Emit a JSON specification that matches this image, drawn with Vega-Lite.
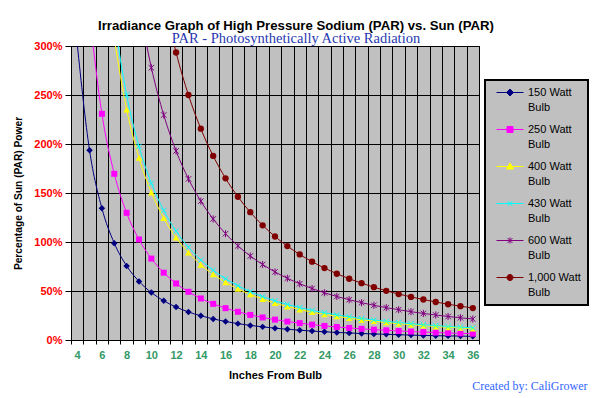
{
  "$schema": "https://vega.github.io/schema/vega-lite/v6.json",
  "width": 408,
  "height": 294,
  "autosize": {"type": "none"},
  "padding": {"left": 71, "top": 46, "right": 114, "bottom": 58},
  "background": "white",
  "title": {
    "text": "Irradiance Graph of High Pressure Sodium (PAR) vs. Sun (PAR)",
    "subtitle": "PAR - Photosynthetically Active Radiation",
    "anchor": "middle",
    "frame": "group",
    "dx": 21,
    "offset": -6,
    "font": "Liberation Sans",
    "fontSize": 13.2,
    "fontWeight": "bold",
    "color": "black",
    "subtitleFont": "Liberation Serif",
    "subtitleFontSize": 14.5,
    "subtitleColor": "#2638b0",
    "subtitlePadding": -2
  },
  "config": {
    "view": {"fill": "#c0c0c0", "stroke": "black", "strokeWidth": 1},
    "axis": {"labelFont": "Liberation Sans", "titleFont": "Liberation Sans"}
  },
  "data": {"values": [
    {"bulb": "150 Watt Bulb", "inches": 4, "pct": 302.5},
    {"bulb": "150 Watt Bulb", "inches": 5, "pct": 193.6},
    {"bulb": "150 Watt Bulb", "inches": 6, "pct": 134.4},
    {"bulb": "150 Watt Bulb", "inches": 7, "pct": 98.8},
    {"bulb": "150 Watt Bulb", "inches": 8, "pct": 75.6},
    {"bulb": "150 Watt Bulb", "inches": 9, "pct": 59.8},
    {"bulb": "150 Watt Bulb", "inches": 10, "pct": 48.4},
    {"bulb": "150 Watt Bulb", "inches": 11, "pct": 40.0},
    {"bulb": "150 Watt Bulb", "inches": 12, "pct": 33.6},
    {"bulb": "150 Watt Bulb", "inches": 13, "pct": 28.6},
    {"bulb": "150 Watt Bulb", "inches": 14, "pct": 24.7},
    {"bulb": "150 Watt Bulb", "inches": 15, "pct": 21.5},
    {"bulb": "150 Watt Bulb", "inches": 16, "pct": 18.9},
    {"bulb": "150 Watt Bulb", "inches": 17, "pct": 16.7},
    {"bulb": "150 Watt Bulb", "inches": 18, "pct": 14.9},
    {"bulb": "150 Watt Bulb", "inches": 19, "pct": 13.4},
    {"bulb": "150 Watt Bulb", "inches": 20, "pct": 12.1},
    {"bulb": "150 Watt Bulb", "inches": 21, "pct": 11.0},
    {"bulb": "150 Watt Bulb", "inches": 22, "pct": 10.0},
    {"bulb": "150 Watt Bulb", "inches": 23, "pct": 9.1},
    {"bulb": "150 Watt Bulb", "inches": 24, "pct": 8.4},
    {"bulb": "150 Watt Bulb", "inches": 25, "pct": 7.7},
    {"bulb": "150 Watt Bulb", "inches": 26, "pct": 7.2},
    {"bulb": "150 Watt Bulb", "inches": 27, "pct": 6.6},
    {"bulb": "150 Watt Bulb", "inches": 28, "pct": 6.2},
    {"bulb": "150 Watt Bulb", "inches": 29, "pct": 5.8},
    {"bulb": "150 Watt Bulb", "inches": 30, "pct": 5.4},
    {"bulb": "150 Watt Bulb", "inches": 31, "pct": 5.0},
    {"bulb": "150 Watt Bulb", "inches": 32, "pct": 4.7},
    {"bulb": "150 Watt Bulb", "inches": 33, "pct": 4.4},
    {"bulb": "150 Watt Bulb", "inches": 34, "pct": 4.2},
    {"bulb": "150 Watt Bulb", "inches": 35, "pct": 4.0},
    {"bulb": "150 Watt Bulb", "inches": 36, "pct": 3.7},
    {"bulb": "250 Watt Bulb", "inches": 5, "pct": 332.4},
    {"bulb": "250 Watt Bulb", "inches": 6, "pct": 230.8},
    {"bulb": "250 Watt Bulb", "inches": 7, "pct": 169.6},
    {"bulb": "250 Watt Bulb", "inches": 8, "pct": 129.8},
    {"bulb": "250 Watt Bulb", "inches": 9, "pct": 102.6},
    {"bulb": "250 Watt Bulb", "inches": 10, "pct": 83.1},
    {"bulb": "250 Watt Bulb", "inches": 11, "pct": 68.7},
    {"bulb": "250 Watt Bulb", "inches": 12, "pct": 57.7},
    {"bulb": "250 Watt Bulb", "inches": 13, "pct": 49.2},
    {"bulb": "250 Watt Bulb", "inches": 14, "pct": 42.4},
    {"bulb": "250 Watt Bulb", "inches": 15, "pct": 36.9},
    {"bulb": "250 Watt Bulb", "inches": 16, "pct": 32.5},
    {"bulb": "250 Watt Bulb", "inches": 17, "pct": 28.8},
    {"bulb": "250 Watt Bulb", "inches": 18, "pct": 25.6},
    {"bulb": "250 Watt Bulb", "inches": 19, "pct": 23.0},
    {"bulb": "250 Watt Bulb", "inches": 20, "pct": 20.8},
    {"bulb": "250 Watt Bulb", "inches": 21, "pct": 18.8},
    {"bulb": "250 Watt Bulb", "inches": 22, "pct": 17.2},
    {"bulb": "250 Watt Bulb", "inches": 23, "pct": 15.7},
    {"bulb": "250 Watt Bulb", "inches": 24, "pct": 14.4},
    {"bulb": "250 Watt Bulb", "inches": 25, "pct": 13.3},
    {"bulb": "250 Watt Bulb", "inches": 26, "pct": 12.3},
    {"bulb": "250 Watt Bulb", "inches": 27, "pct": 11.4},
    {"bulb": "250 Watt Bulb", "inches": 28, "pct": 10.6},
    {"bulb": "250 Watt Bulb", "inches": 29, "pct": 9.9},
    {"bulb": "250 Watt Bulb", "inches": 30, "pct": 9.2},
    {"bulb": "250 Watt Bulb", "inches": 31, "pct": 8.6},
    {"bulb": "250 Watt Bulb", "inches": 32, "pct": 8.1},
    {"bulb": "250 Watt Bulb", "inches": 33, "pct": 7.6},
    {"bulb": "250 Watt Bulb", "inches": 34, "pct": 7.2},
    {"bulb": "250 Watt Bulb", "inches": 35, "pct": 6.8},
    {"bulb": "250 Watt Bulb", "inches": 36, "pct": 6.4},
    {"bulb": "400 Watt Bulb", "inches": 7, "pct": 307.1},
    {"bulb": "400 Watt Bulb", "inches": 8, "pct": 235.2},
    {"bulb": "400 Watt Bulb", "inches": 9, "pct": 185.8},
    {"bulb": "400 Watt Bulb", "inches": 10, "pct": 150.5},
    {"bulb": "400 Watt Bulb", "inches": 11, "pct": 124.4},
    {"bulb": "400 Watt Bulb", "inches": 12, "pct": 104.5},
    {"bulb": "400 Watt Bulb", "inches": 13, "pct": 89.1},
    {"bulb": "400 Watt Bulb", "inches": 14, "pct": 76.8},
    {"bulb": "400 Watt Bulb", "inches": 15, "pct": 66.9},
    {"bulb": "400 Watt Bulb", "inches": 16, "pct": 58.8},
    {"bulb": "400 Watt Bulb", "inches": 17, "pct": 52.1},
    {"bulb": "400 Watt Bulb", "inches": 18, "pct": 46.5},
    {"bulb": "400 Watt Bulb", "inches": 19, "pct": 41.7},
    {"bulb": "400 Watt Bulb", "inches": 20, "pct": 37.6},
    {"bulb": "400 Watt Bulb", "inches": 21, "pct": 34.1},
    {"bulb": "400 Watt Bulb", "inches": 22, "pct": 31.1},
    {"bulb": "400 Watt Bulb", "inches": 23, "pct": 28.4},
    {"bulb": "400 Watt Bulb", "inches": 24, "pct": 26.1},
    {"bulb": "400 Watt Bulb", "inches": 25, "pct": 24.1},
    {"bulb": "400 Watt Bulb", "inches": 26, "pct": 22.3},
    {"bulb": "400 Watt Bulb", "inches": 27, "pct": 20.6},
    {"bulb": "400 Watt Bulb", "inches": 28, "pct": 19.2},
    {"bulb": "400 Watt Bulb", "inches": 29, "pct": 17.9},
    {"bulb": "400 Watt Bulb", "inches": 30, "pct": 16.7},
    {"bulb": "400 Watt Bulb", "inches": 31, "pct": 15.7},
    {"bulb": "400 Watt Bulb", "inches": 32, "pct": 14.7},
    {"bulb": "400 Watt Bulb", "inches": 33, "pct": 13.8},
    {"bulb": "400 Watt Bulb", "inches": 34, "pct": 13.0},
    {"bulb": "400 Watt Bulb", "inches": 35, "pct": 12.3},
    {"bulb": "400 Watt Bulb", "inches": 36, "pct": 11.6},
    {"bulb": "430 Watt Bulb", "inches": 7, "pct": 326.5},
    {"bulb": "430 Watt Bulb", "inches": 8, "pct": 250.0},
    {"bulb": "430 Watt Bulb", "inches": 9, "pct": 197.5},
    {"bulb": "430 Watt Bulb", "inches": 10, "pct": 160.0},
    {"bulb": "430 Watt Bulb", "inches": 11, "pct": 132.2},
    {"bulb": "430 Watt Bulb", "inches": 12, "pct": 111.1},
    {"bulb": "430 Watt Bulb", "inches": 13, "pct": 94.7},
    {"bulb": "430 Watt Bulb", "inches": 14, "pct": 81.6},
    {"bulb": "430 Watt Bulb", "inches": 15, "pct": 71.1},
    {"bulb": "430 Watt Bulb", "inches": 16, "pct": 62.5},
    {"bulb": "430 Watt Bulb", "inches": 17, "pct": 55.4},
    {"bulb": "430 Watt Bulb", "inches": 18, "pct": 49.4},
    {"bulb": "430 Watt Bulb", "inches": 19, "pct": 44.3},
    {"bulb": "430 Watt Bulb", "inches": 20, "pct": 40.0},
    {"bulb": "430 Watt Bulb", "inches": 21, "pct": 36.3},
    {"bulb": "430 Watt Bulb", "inches": 22, "pct": 33.1},
    {"bulb": "430 Watt Bulb", "inches": 23, "pct": 30.2},
    {"bulb": "430 Watt Bulb", "inches": 24, "pct": 27.8},
    {"bulb": "430 Watt Bulb", "inches": 25, "pct": 25.6},
    {"bulb": "430 Watt Bulb", "inches": 26, "pct": 23.7},
    {"bulb": "430 Watt Bulb", "inches": 27, "pct": 21.9},
    {"bulb": "430 Watt Bulb", "inches": 28, "pct": 20.4},
    {"bulb": "430 Watt Bulb", "inches": 29, "pct": 19.0},
    {"bulb": "430 Watt Bulb", "inches": 30, "pct": 17.8},
    {"bulb": "430 Watt Bulb", "inches": 31, "pct": 16.6},
    {"bulb": "430 Watt Bulb", "inches": 32, "pct": 15.6},
    {"bulb": "430 Watt Bulb", "inches": 33, "pct": 14.7},
    {"bulb": "430 Watt Bulb", "inches": 34, "pct": 13.8},
    {"bulb": "430 Watt Bulb", "inches": 35, "pct": 13.1},
    {"bulb": "430 Watt Bulb", "inches": 36, "pct": 12.3},
    {"bulb": "600 Watt Bulb", "inches": 9, "pct": 343.0},
    {"bulb": "600 Watt Bulb", "inches": 10, "pct": 277.8},
    {"bulb": "600 Watt Bulb", "inches": 11, "pct": 229.6},
    {"bulb": "600 Watt Bulb", "inches": 12, "pct": 192.9},
    {"bulb": "600 Watt Bulb", "inches": 13, "pct": 164.4},
    {"bulb": "600 Watt Bulb", "inches": 14, "pct": 141.7},
    {"bulb": "600 Watt Bulb", "inches": 15, "pct": 123.5},
    {"bulb": "600 Watt Bulb", "inches": 16, "pct": 108.5},
    {"bulb": "600 Watt Bulb", "inches": 17, "pct": 96.1},
    {"bulb": "600 Watt Bulb", "inches": 18, "pct": 85.7},
    {"bulb": "600 Watt Bulb", "inches": 19, "pct": 77.0},
    {"bulb": "600 Watt Bulb", "inches": 20, "pct": 69.5},
    {"bulb": "600 Watt Bulb", "inches": 21, "pct": 63.0},
    {"bulb": "600 Watt Bulb", "inches": 22, "pct": 57.4},
    {"bulb": "600 Watt Bulb", "inches": 23, "pct": 52.5},
    {"bulb": "600 Watt Bulb", "inches": 24, "pct": 48.2},
    {"bulb": "600 Watt Bulb", "inches": 25, "pct": 44.4},
    {"bulb": "600 Watt Bulb", "inches": 26, "pct": 41.1},
    {"bulb": "600 Watt Bulb", "inches": 27, "pct": 38.1},
    {"bulb": "600 Watt Bulb", "inches": 28, "pct": 35.4},
    {"bulb": "600 Watt Bulb", "inches": 29, "pct": 33.0},
    {"bulb": "600 Watt Bulb", "inches": 30, "pct": 30.9},
    {"bulb": "600 Watt Bulb", "inches": 31, "pct": 28.9},
    {"bulb": "600 Watt Bulb", "inches": 32, "pct": 27.1},
    {"bulb": "600 Watt Bulb", "inches": 33, "pct": 25.5},
    {"bulb": "600 Watt Bulb", "inches": 34, "pct": 24.0},
    {"bulb": "600 Watt Bulb", "inches": 35, "pct": 22.7},
    {"bulb": "600 Watt Bulb", "inches": 36, "pct": 21.4},
    {"bulb": "1,000 Watt Bulb", "inches": 11, "pct": 349.2},
    {"bulb": "1,000 Watt Bulb", "inches": 12, "pct": 293.4},
    {"bulb": "1,000 Watt Bulb", "inches": 13, "pct": 250.0},
    {"bulb": "1,000 Watt Bulb", "inches": 14, "pct": 215.6},
    {"bulb": "1,000 Watt Bulb", "inches": 15, "pct": 187.8},
    {"bulb": "1,000 Watt Bulb", "inches": 16, "pct": 165.0},
    {"bulb": "1,000 Watt Bulb", "inches": 17, "pct": 146.2},
    {"bulb": "1,000 Watt Bulb", "inches": 18, "pct": 130.4},
    {"bulb": "1,000 Watt Bulb", "inches": 19, "pct": 117.0},
    {"bulb": "1,000 Watt Bulb", "inches": 20, "pct": 105.6},
    {"bulb": "1,000 Watt Bulb", "inches": 21, "pct": 95.8},
    {"bulb": "1,000 Watt Bulb", "inches": 22, "pct": 87.3},
    {"bulb": "1,000 Watt Bulb", "inches": 23, "pct": 79.9},
    {"bulb": "1,000 Watt Bulb", "inches": 24, "pct": 73.4},
    {"bulb": "1,000 Watt Bulb", "inches": 25, "pct": 67.6},
    {"bulb": "1,000 Watt Bulb", "inches": 26, "pct": 62.5},
    {"bulb": "1,000 Watt Bulb", "inches": 27, "pct": 58.0},
    {"bulb": "1,000 Watt Bulb", "inches": 28, "pct": 53.9},
    {"bulb": "1,000 Watt Bulb", "inches": 29, "pct": 50.2},
    {"bulb": "1,000 Watt Bulb", "inches": 30, "pct": 46.9},
    {"bulb": "1,000 Watt Bulb", "inches": 31, "pct": 44.0},
    {"bulb": "1,000 Watt Bulb", "inches": 32, "pct": 41.3},
    {"bulb": "1,000 Watt Bulb", "inches": 33, "pct": 38.8},
    {"bulb": "1,000 Watt Bulb", "inches": 34, "pct": 36.5},
    {"bulb": "1,000 Watt Bulb", "inches": 35, "pct": 34.5},
    {"bulb": "1,000 Watt Bulb", "inches": 36, "pct": 32.6}
  ]},
  "resolve": {"axis": {"x": "independent"}},
  "layer": [
    {
      "encoding": {
        "x": {
          "field": "inches", "type": "quantitative",
          "scale": {"domain": [3.5, 36.5], "nice": false, "zero": false},
          "axis": {
            "orient": "bottom",
            "title": "Inches From Bulb",
            "titleFontSize": 11, "titleFontWeight": "bold", "titleColor": "black", "titlePadding": 9,
            "values": [3.5,4,4.5,5,5.5,6,6.5,7,7.5,8,8.5,9,9.5,10,10.5,11,11.5,12,12.5,13,13.5,14,14.5,15,15.5,16,16.5,17,17.5,18,18.5,19,19.5,20,20.5,21,21.5,22,22.5,23,23.5,24,24.5,25,25.5,26,26.5,27,27.5,28,28.5,29,29.5,30,30.5,31,31.5,32,32.5,33,33.5,34,34.5,35,35.5,36,36.5],
            "labelExpr": "datum.value % 2 === 0 ? format(datum.value, 'd') : ''",
            "labelOverlap": false,
            "labelFontSize": 11, "labelFontWeight": "bold", "labelColor": "#339966", "labelPadding": 5,
            "tickSize": 4, "tickColor": "black",
            "tickOpacity": {"condition": {"test": "datum.value % 1 !== 0", "value": 1}, "value": 0},
            "grid": true, "gridColor": "black", "gridWidth": 1,
            "gridOpacity": {"condition": {"test": "datum.value % 1 !== 0", "value": 1}, "value": 0},
            "domainColor": "black"
          }
        },
        "y": {
          "field": "pct", "type": "quantitative",
          "scale": {"domain": [0, 300], "nice": false},
          "axis": {
            "title": "Percentage of Sun (PAR) Power",
            "titleFontSize": 10.2, "titleFontWeight": "bold", "titleColor": "black", "titlePadding": 10,
            "values": [0, 50, 100, 150, 200, 250, 300],
            "labelExpr": "datum.value + '%'",
            "labelFontSize": 11, "labelFontWeight": "bold", "labelColor": "#ff0000", "labelPadding": 3,
            "tickSize": 6, "tickColor": "black",
            "grid": true, "gridColor": "black", "gridWidth": 1, "gridOpacity": 1,
            "domainColor": "black"
          }
        },
        "color": {
          "field": "bulb", "type": "nominal",
          "scale": {
            "domain": ["150 Watt Bulb", "250 Watt Bulb", "400 Watt Bulb", "430 Watt Bulb", "600 Watt Bulb", "1,000 Watt Bulb"],
            "range": ["#000080", "#ff00ff", "#ffff00", "#00ffff", "#800080", "#800000"]
          },
          "legend": null
        }
      },
      "layer": [
        {
          "data": {"values": [{}]},
          "mark": {"type": "rule", "color": "#ff0000", "strokeWidth": 2},
          "encoding": {
            "y": {"datum": 100, "type": "quantitative"},
            "x": {"datum": 3.5, "type": "quantitative"},
            "x2": {"datum": 36.5},
            "color": {"value": "#ff0000"}
          }
        },
        {
          "mark": {"type": "line", "strokeWidth": 1, "interpolate": "monotone", "clip": true},
          "encoding": {
            "color": {
              "field": "bulb", "type": "nominal",
              "legend": {
                "title": null,
                "orient": "none",
                "legendX": 414,
                "legendY": 34,
                "fillColor": "#c0c0c0",
                "strokeColor": "black",
                "padding": 7,
                "symbolSize": 49,
                "symbolStrokeWidth": 1,
                "symbolOffset": 12.5,
                "labelFont": "Liberation Sans",
                "labelFontSize": 11,
                "labelColor": "black",
                "labelOffset": 12.5,
                "labelLimit": 200,
                "rowPadding": 10,
                "labelExpr": "[replace(datum.label, ' Bulb', ''), 'Bulb']",
                "encode": {
                  "legend": {
                    "update": {"strokeWidth": {"value": 2}}
                  },
                  "labels": {
                    "update": {"lineHeight": {"value": 15}}
                  },
                  "symbols": {
                    "update": {
                      "shape": {"signal": "['M-3.86,0H3.86M0,-1L1,0L0,1L-1,0Z', 'M-3.86,0H3.86M-0.86,-0.86H0.86V0.86H-0.86Z', 'M-3.86,0H3.86M0,-1L1,0.71H-1Z', 'M-3.86,0H3.86M-0.71,-0.71L0.71,0.71M-0.71,0.71L0.71,-0.71', 'M-3.86,0H3.86M-0.71,-0.71L0.71,0.71M-0.71,0.71L0.71,-0.71M0,-0.86V0.86', 'M-3.86,0H3.86M-0.86,0A0.86,0.86 0 1,0 0.86,0A0.86,0.86 0 1,0 -0.86,0Z'][datum.index]"},
                      "fill": {"signal": "scale('color', datum.value)"},
                      "stroke": {"signal": "scale('color', datum.value)"},
                      "strokeWidth": {"value": 1},
                      "opacity": {"value": 1}
                    }
                  }
                }
              }
            }
          }
        },
        {
          "transform": [{"filter": "datum.bulb === '150 Watt Bulb'"}],
          "mark": {"type": "point", "shape": "diamond", "filled": true, "opacity": 1, "size": 42, "clip": true}
        },
        {
          "transform": [{"filter": "datum.bulb === '250 Watt Bulb'"}],
          "mark": {"type": "point", "shape": "square", "filled": true, "opacity": 1, "size": 36, "clip": true}
        },
        {
          "transform": [{"filter": "datum.bulb === '400 Watt Bulb'"}],
          "mark": {"type": "point", "shape": "triangle-up", "filled": true, "opacity": 1, "size": 45, "clip": true}
        },
        {
          "transform": [{"filter": "datum.bulb === '430 Watt Bulb'"}],
          "mark": {"type": "point", "shape": "M-1,-1L1,1M-1,1L1,-1", "filled": false, "opacity": 1, "size": 28, "strokeWidth": 1, "clip": true}
        },
        {
          "transform": [{"filter": "datum.bulb === '600 Watt Bulb'"}],
          "mark": {"type": "point", "shape": "M-1,-1L1,1M-1,1L1,-1M0,-1.3V1.3", "filled": false, "opacity": 1, "size": 30, "strokeWidth": 1, "clip": true}
        },
        {
          "transform": [{"filter": "datum.bulb === '1,000 Watt Bulb'"}],
          "mark": {"type": "point", "shape": "circle", "filled": true, "opacity": 1, "size": 40, "clip": true}
        },
        {
          "data": {"values": [{}]},
          "mark": {"type": "text", "font": "Liberation Serif", "fontSize": 13, "color": "#ff0000", "align": "center", "baseline": "alphabetic"},
          "encoding": {"x": {"datum": 32.7, "type": "quantitative"}, "y": {"datum": 121.5, "type": "quantitative"}, "text": {"value": "1,990 umol/m²/s"}, "color": {"value": "#ff0000"}}
        },
        {
          "data": {"values": [{}]},
          "mark": {"type": "text", "font": "Liberation Serif", "fontSize": 12, "color": "#ff0000", "align": "center", "baseline": "alphabetic"},
          "encoding": {"x": {"datum": 32.7, "type": "quantitative"}, "y": {"datum": 107, "type": "quantitative"}, "text": {"value": "Tropical Sun (PAR)"}, "color": {"value": "#ff0000"}}
        }
      ]
    },
    {
      "mark": {"type": "point", "opacity": 0},
      "encoding": {
        "x": {
          "field": "inches", "type": "quantitative",
          "axis": {
            "orient": "bottom",
            "title": "Created by: CaliGrower",
            "labels": false, "ticks": false, "domain": false, "grid": false,
            "titleFont": "Liberation Serif", "titleFontSize": 12, "titleFontWeight": "normal",
            "titleColor": "#3366ff", "titleAngle": 0,
            "titleAlign": "right", "titleBaseline": "alphabetic",
            "titleX": 516, "titleY": 49
          }
        }
      }
    }
  ]
}
